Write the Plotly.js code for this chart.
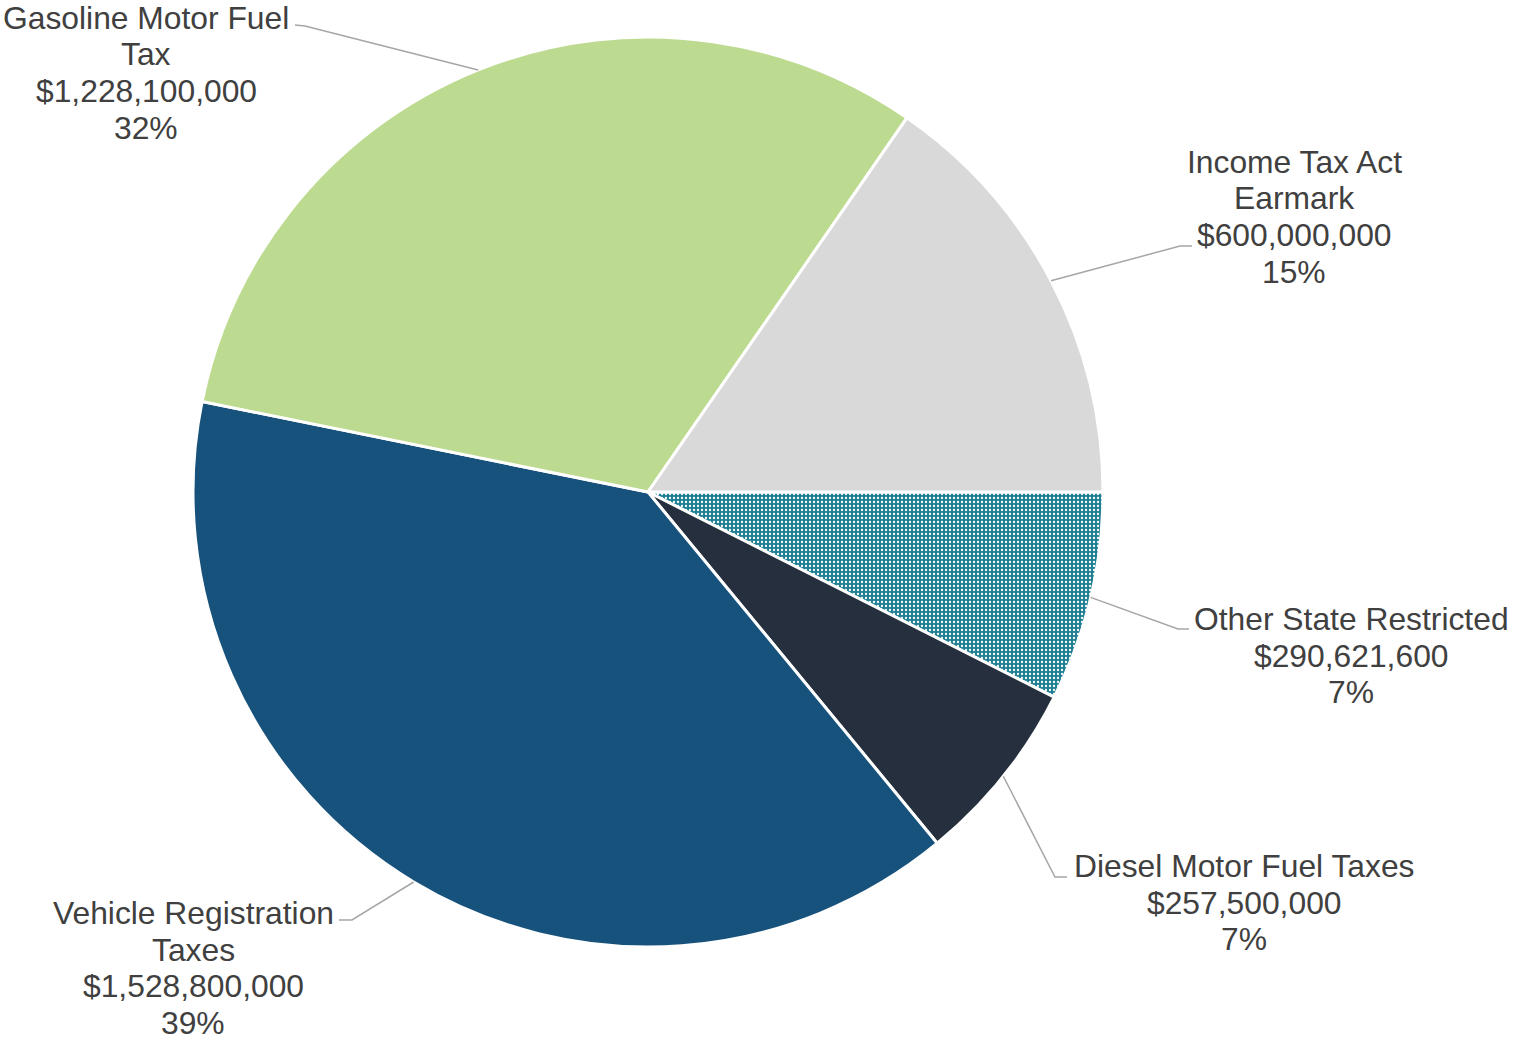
<!DOCTYPE html>
<html>
<head>
<meta charset="utf-8">
<script src="https://cdn.plot.ly/plotly-3.0.1.min.js"></script>
<style>
  html, body { margin: 0; padding: 0; background: #ffffff; }
  #chart { width: 1513px; height: 1041px; }
</style>
</head>
<body>
<div id="chart"></div>
<script>
// ---- Data ----
const categories = ['Other State Restricted', 'Diesel Motor Fuel Taxes', 'Vehicle Registration Taxes', 'Gasoline Motor Fuel Tax', 'Income Tax Act Earmark'];
const values = [290621600, 257500000, 1528800000, 1228100000, 600000000];
const pctLabels = ['7%', '7%', '39%', '32%', '15%'];
const nameLines = [
  ['Other State Restricted'],
  ['Diesel Motor Fuel Taxes'],
  ['Vehicle Registration', 'Taxes'],
  ['Gasoline Motor Fuel', 'Tax'],
  ['Income Tax Act', 'Earmark']
];
const sliceColors = ['#1f7f92', '#262f3d', '#17527c', '#bddb90', '#d9d9d9'];

// ---- Layout geometry ----
const W = 1513, H = 1041;
const CX = 648, CY = 492, R = 455;           // pie centre & radius (px)
// label block: centre x, first line centre y (px)
const labelPos = [[1351, 619], [1244, 866], [193, 913], [146, 18], [1294, 162]];
// leader line elbow and end points (px)
const elbows = [[1178, 629], [1055, 877], [352, 920], [305, 26], [1180, 246]];
const ends = [[1189, 629], [1067, 877], [339, 920], [295, 25], [1192, 246]];
const LINE_GAP = 36.5;
const FONT = 'Liberation Sans, Arial, sans-serif';

const px = x => x / W;
const py = y => 1 - y / H;

const total = values.reduce((a, b) => a + b, 0);
const annotations = [];
const shapes = [];
let cum = 0;
values.forEach((v, i) => {
  const mid = (cum + v / 2) / total;
  cum += v;
  const ang = mid * 2 * Math.PI; // clockwise from 3 o'clock
  const ex = CX + R * Math.cos(ang);
  const ey = CY + R * Math.sin(ang);
  shapes.push({
    type: 'path', xref: 'paper', yref: 'paper',
    path: `M ${px(ex)},${py(ey)} L ${px(elbows[i][0])},${py(elbows[i][1])} L ${px(ends[i][0])},${py(ends[i][1])}`,
    line: { color: '#a6a6a6', width: 1.5 }
  });
  const lines = nameLines[i].concat(['$' + v.toLocaleString('en-US'), pctLabels[i]]);
  lines.forEach((t, k) => {
    annotations.push({
      xref: 'paper', yref: 'paper',
      x: px(labelPos[i][0]), y: py(labelPos[i][1] + k * LINE_GAP),
      xanchor: 'center', yanchor: 'middle',
      borderpad: 0,
      text: t, showarrow: false,
      font: { family: FONT, size: 31.8, color: '#404040' }
    });
  });
});

const trace = {
  type: 'pie',
  labels: categories,
  values: values,
  sort: false,
  direction: 'clockwise',
  rotation: 90,
  textinfo: 'none',
  showlegend: false,
  hoverinfo: 'label+value+percent',
  domain: { x: [(CX - R) / W, (CX + R) / W], y: [1 - (CY + R) / H, 1 - (CY - R) / H] },
  marker: {
    colors: sliceColors,
    line: { color: '#ffffff', width: 3 },
    pattern: {
      shape: ['.', '', '', '', ''],
      fillmode: 'overlay',
      fgcolor: '#ffffff',
      fgopacity: 1,
      size: 4,
      solidity: 0.25
    }
  }
};

const layout = {
  width: W, height: H,
  margin: { l: 0, r: 0, t: 0, b: 0 },
  paper_bgcolor: '#ffffff',
  plot_bgcolor: '#ffffff',
  showlegend: false,
  annotations: annotations,
  shapes: shapes
};

Plotly.newPlot('chart', [trace], layout, { displayModeBar: false, staticPlot: true });
</script>
</body>
</html>
